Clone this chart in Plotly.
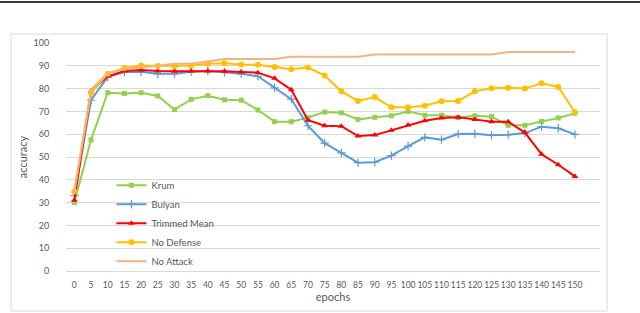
import plotly.graph_objects as go

epochs = list(range(0, 155, 5))

krum = [30, 57.5, 78.2, 77.9, 78.2, 76.8, 70.8, 75.3, 76.9, 75.1, 74.9, 70.6, 65.5, 65.5,
        67.3, 69.7, 69.4, 66.5, 67.4, 68.1, 70.0, 68.3, 68.3, 67.3, 68.1, 67.7, 63.9, 63.9,
        65.6, 67.1, 69.2]
bulyan = [33, 74.9, 85.1, 87.3, 87.4, 86.5, 86.5, 87.4, 87.7, 87.1, 86.5, 85.4, 80.3, 75.4,
          63.7, 56.1, 51.8, 47.5, 47.7, 50.6, 54.8, 58.6, 57.6, 60.1, 60.2, 59.5, 59.8, 60.5,
          63.3, 62.6, 59.9]
trimmed_mean = [31, 78.9, 85.4, 87.7, 88.2, 87.7, 87.6, 87.7, 87.7, 87.6, 87.3, 87.0, 84.5,
                79.5, 66.1, 63.7, 63.5, 59.2, 59.6, 61.7, 64.0, 65.9, 67.1, 67.4, 66.5, 65.5,
                65.5, 60.7, 51.2, 46.6, 41.5]
no_defense = [34.9, 78.1, 86.5, 89.0, 90.1, 89.9, 89.9, 90.1, 90.9, 91.1, 90.6, 90.5, 89.5,
              88.5, 89.3, 85.7, 78.8, 74.6, 76.3, 71.8, 71.8, 72.5, 74.4, 74.6, 78.8, 80.1,
              80.4, 80.0, 82.3, 80.7, 69.6]
no_attack = [35, 79.5, 86.8, 88.6, 89.3, 90.1, 90.9, 90.9, 92, 93, 93, 93, 93, 94, 94, 94, 94,
             94, 95, 95, 95, 95, 95, 95, 95, 95, 96, 96, 96, 96, 96]

y_ticks = list(range(0, 101, 10))

series = [
    ("Krum", krum, "#92D050", "square", 5),
    ("Bulyan", bulyan, "#5B9BD5", "cross-thin", 6),
    ("Trimmed Mean", trimmed_mean, "#FF0000", "triangle-up", 6),
    ("No Defense", no_defense, "#FFC000", "circle", 6),
]

fig = go.Figure()
for name, vals, color, sym, size in series:
    marker = dict(symbol=sym, size=size, color=color)
    if sym == "cross-thin":
        marker["line"] = dict(color=color, width=1.2)
    fig.add_trace(go.Scatter(x=epochs, y=vals, name=name, mode="lines+markers",
                             line=dict(color=color, width=2), marker=marker,
                             cliponaxis=False))
fig.add_trace(go.Scatter(x=epochs, y=no_attack, name="No Attack", mode="lines",
                         line=dict(color="#F4B183", width=2), cliponaxis=False))

font_color = "#595959"
fig.update_layout(
    width=640, height=313,
    margin=dict(l=66, r=40, t=43, b=42),
    paper_bgcolor="white", plot_bgcolor="white",
    font=dict(family="Lato, Liberation Sans, sans-serif", color=font_color, size=9),
    showlegend=True,
    legend=dict(x=0.085, y=0.44, xanchor="left", yanchor="top",
                bgcolor="rgba(0,0,0,0)", font=dict(size=9.5, color=font_color),
                itemwidth=30),
    xaxis=dict(range=[-2.5, 157.5], tickvals=epochs, ticktext=[str(e) for e in epochs],
               showgrid=False, zeroline=False, showline=False, automargin=False,
               tickangle=0,
               ticks="outside", ticklen=6, tickcolor="rgba(0,0,0,0)",
               tickfont=dict(size=8.5),
               title=dict(text="epochs", font=dict(size=11, color=font_color), standoff=4)),
    yaxis=dict(range=[0, 100], tickvals=y_ticks, showgrid=True, gridcolor="#D9D9D9",
               gridwidth=1, zeroline=True, zerolinecolor="#D9D9D9", zerolinewidth=1,
               showline=False, automargin=False,
               ticks="outside", ticklen=14, tickcolor="rgba(0,0,0,0)",
               tickfont=dict(size=9),
               title=dict(text="accuracy", font=dict(size=11, color=font_color), standoff=3)),
    shapes=[
        dict(type="rect", xref="paper", yref="paper",
             x0=(11 - 66) / 534, x1=(607 - 66) / 534,
             y0=(271 - 311) / 228, y1=(271 - 34) / 228,
             line=dict(color="#D9D9D9", width=1), fillcolor="rgba(0,0,0,0)", layer="below"),
        dict(type="rect", xref="paper", yref="paper",
             x0=-66 / 534, x1=(640 - 66) / 534,
             y0=(271 - 3.0) / 228, y1=(271 - 1.0) / 228,
             line=dict(width=0), fillcolor="#3a3a3a"),
    ],
)

fig.write_html("out.html", config={"displayModeBar": False},
               post_script="document.body.style.margin='0';document.body.style.overflow='hidden';")
